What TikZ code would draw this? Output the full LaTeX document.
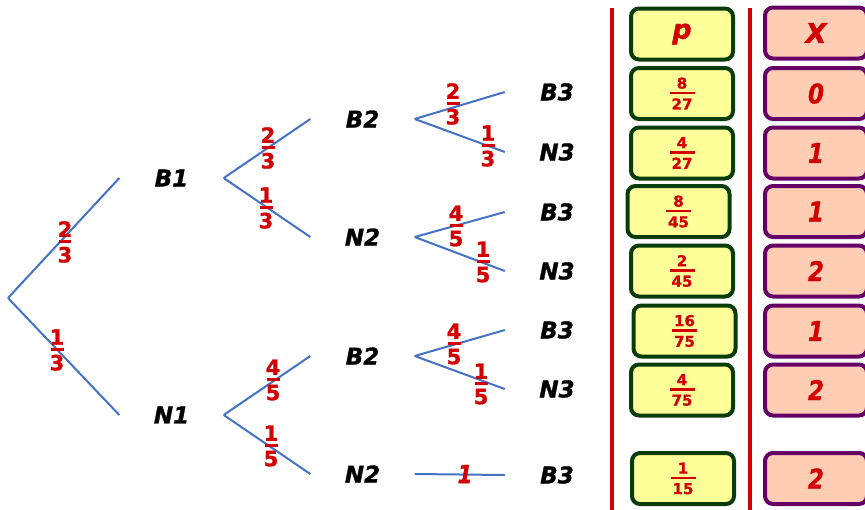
\documentclass[tikz,border=0pt]{standalone}
\usepackage{fontspec}
\setmainfont{DejaVu Sans}
\newfontfamily\hvit[FakeBold=1.2]{DejaVu Sans Bold Oblique}
\newfontfamily\hv[FakeBold=1.2]{DejaVu Sans Bold}
\newfontfamily\hvitn[FakeBold=1.2,FakeStretch=0.85]{DejaVu Sans Bold Oblique}
\definecolor{lineblue}{RGB}{68,114,196}
\definecolor{fracred}{RGB}{210,0,0}
\definecolor{pgreen}{RGB}{10,60,10}
\definecolor{pyellow}{RGB}{255,255,153}
\definecolor{xpurple}{RGB}{102,0,102}
\definecolor{xpeach}{RGB}{255,204,180}
\newcommand\fracv[4]{\vbox{\offinterlineskip\halign{\hfil##\hfil\cr#1\cr\noalign{\kern3pt}\rule{#3}{#4}\cr\noalign{\kern4pt}#2\cr}}}
\begin{document}
\begin{tikzpicture}[x=1pt,y=-1pt,
  tlab/.style={font=\fontsize{23}{23}\selectfont\hvit, inner sep=0pt, minimum width=104pt, minimum height=20pt, text=black},
  branch/.style={draw=lineblue, line width=2pt},
  tfrac/.style={text=fracred, font=\fontsize{21}{21}\selectfont\hv, inner sep=0pt},
  bfrac/.style={text=fracred, font=\fontsize{15}{15}\selectfont\hv, inner sep=0pt},
  pbox/.style={draw=pgreen, fill=pyellow, line width=4pt, rounded corners=8pt, minimum width=102pt, minimum height=51pt, inner sep=0pt},
  xbox/.style={draw=xpurple, fill=xpeach, line width=4pt, rounded corners=8pt, minimum width=102pt, minimum height=51pt, inner sep=0pt, text=fracred, font=\fontsize{27}{27}\selectfont\hvitn},
  sep/.style={draw=fracred, line width=4pt}
]
\clip (0,0) rectangle (865,509);
\fill[white] (0,0) rectangle (865,509);

% separators
\coordinate (s1t) at (612,8); \coordinate (s1b) at (612,512);
\coordinate (s2t) at (750,8); \coordinate (s2b) at (750,512);
\draw[sep] (s1t) -- (s1b);
\draw[sep] (s2t) -- (s2b);

% tree nodes
\coordinate (R) at (8,298);
\node[tlab] (B1) at (171.5,178) {B1};
\node[tlab] (N1) at (171.5,415) {N1};
\node[tlab] (B2a) at (362.5,119) {B2};
\node[tlab] (N2a) at (362.5,237) {N2};
\node[tlab] (B2b) at (362.5,356) {B2};
\node[tlab] (N2b) at (362.5,474) {N2};
\node[tlab] (B3a) at (557,92) {B3};
\node[tlab] (N3a) at (557,152) {N3};
\node[tlab] (B3b) at (557,212) {B3};
\node[tlab] (N3b) at (557,271) {N3};
\node[tlab] (B3c) at (557,330) {B3};
\node[tlab] (N3c) at (557,389) {N3};
\node[tlab] (B3d) at (557,475) {B3};

% branches
\draw[branch] (R) -- (B1.west);
\draw[branch] (R) -- (N1.west);
\draw[branch] (B1.east) -- (B2a.west);
\draw[branch] (B1.east) -- (N2a.west);
\draw[branch] (N1.east) -- (B2b.west);
\draw[branch] (N1.east) -- (N2b.west);
\draw[branch] (B2a.east) -- (B3a.west);
\draw[branch] (B2a.east) -- (N3a.west);
\draw[branch] (N2a.east) -- (B3b.west);
\draw[branch] (N2a.east) -- (N3b.west);
\draw[branch] (B2b.east) -- (B3c.west);
\draw[branch] (B2b.east) -- (N3c.west);
\draw[branch] (N2b.east) -- (B3d.west);

% branch probabilities
\node[tfrac] (f1) at (65,242) {\fracv{2}{3}{13pt}{3pt}};
\node[tfrac] (f2) at (57,350) {\fracv{1}{3}{13pt}{3pt}};
\node[tfrac] (f3) at (268,148) {\fracv{2}{3}{13pt}{3pt}};
\node[tfrac] (f4) at (266,208) {\fracv{1}{3}{13pt}{3pt}};
\node[tfrac] (f5) at (273,380) {\fracv{4}{5}{13pt}{3pt}};
\node[tfrac] (f6) at (271,446) {\fracv{1}{5}{13pt}{3pt}};
\node[tfrac] (f7) at (453,104) {\fracv{2}{3}{13pt}{3pt}};
\node[tfrac] (f8) at (488,146) {\fracv{1}{3}{13pt}{3pt}};
\node[tfrac] (f9) at (456,226) {\fracv{4}{5}{13pt}{3pt}};
\node[tfrac] (f10) at (483,262) {\fracv{1}{5}{13pt}{3pt}};
\node[tfrac] (f11) at (454,344) {\fracv{4}{5}{13pt}{3pt}};
\node[tfrac] (f12) at (481,384) {\fracv{1}{5}{13pt}{3pt}};
\node[text=fracred, font=\fontsize{25}{25}\selectfont\hvitn, inner sep=0pt] (f13) at (465,474) {1};

% p column
\node[pbox, text=fracred, font=\fontsize{27}{27}\selectfont\hvit] (p0) at (682,34) {\raisebox{-3pt}{p}};
\node[pbox, bfrac] (p1) at (682,93.5) {\fracv{8}{27}{25pt}{2.5pt}};
\node[pbox, bfrac] (p2) at (682,153) {\fracv{4}{27}{25pt}{2.5pt}};
\node[pbox, bfrac] (p3) at (678.5,211.5) {\fracv{8}{45}{25pt}{2.5pt}};
\node[pbox, bfrac] (p4) at (682,271) {\fracv{2}{45}{25pt}{2.5pt}};
\node[pbox, bfrac] (p5) at (684.5,331) {\fracv{16}{75}{25pt}{2.5pt}};
\node[pbox, bfrac] (p6) at (682,390) {\fracv{4}{75}{25pt}{2.5pt}};
\node[pbox, bfrac] (p7) at (683,478.5) {\fracv{1}{15}{25pt}{2.5pt}};

% X column
\node[xbox, font=\fontsize{27}{27}\selectfont\hvit] (x0) at (816,33) {X};
\node[xbox] (x1) at (816,93.5) {0};
\node[xbox] (x2) at (816,153) {1};
\node[xbox] (x3) at (816,211.5) {1};
\node[xbox] (x4) at (816,271) {2};
\node[xbox] (x5) at (816,331) {1};
\node[xbox] (x6) at (816,390) {2};
\node[xbox] (x7) at (816,478.5) {2};
\end{tikzpicture}
\end{document}
